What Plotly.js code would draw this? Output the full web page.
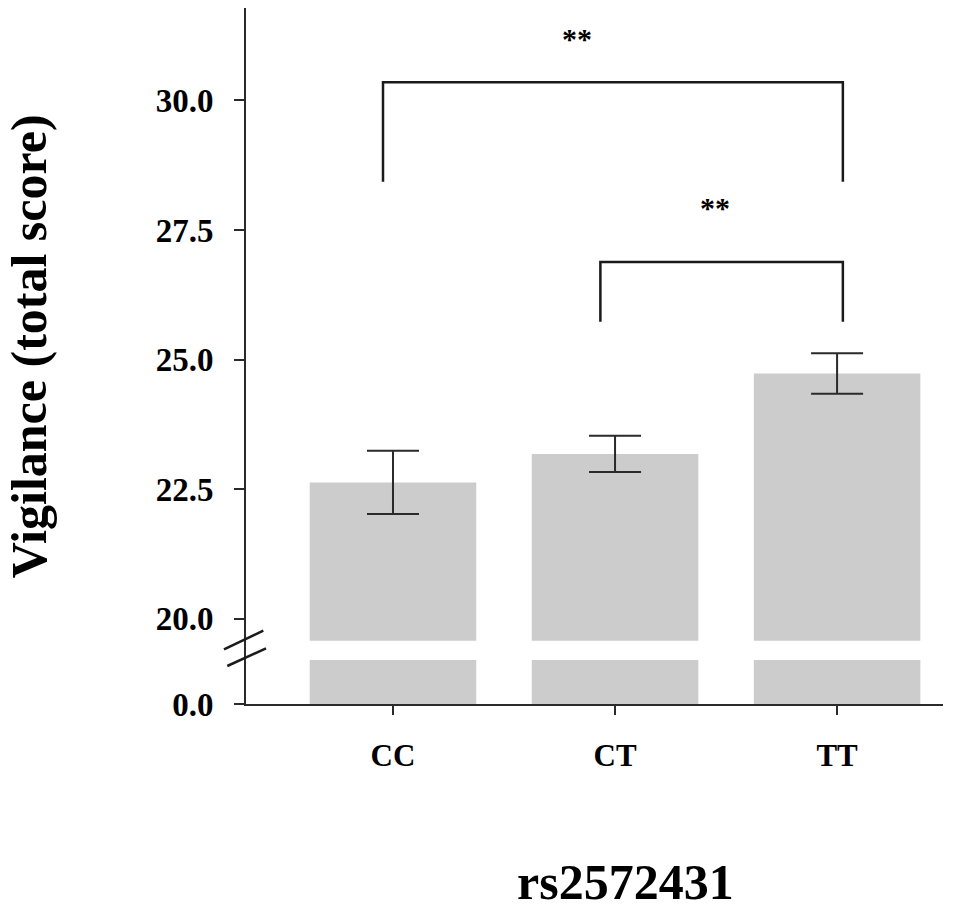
<!DOCTYPE html>
<html>
<head>
<meta charset="utf-8">
<script src="https://cdn.plot.ly/plotly-3.0.1.min.js"></script>
<style>
  html, body { margin: 0; padding: 0; background: #fff; }
  #chart { width: 954px; height: 911px; }
</style>
</head>
<body>
<div id="chart"></div>
<script>
// ---- data ----
const categories = ['CC', 'CT', 'TT'];
const meanScores = [22.63, 23.18, 24.73];
const semScores = [0.61, 0.35, 0.39];
const upperTickVals = [20, 22.5, 25, 27.5, 30];
const upperTickText = ['20.0', '22.5', '25.0', '27.5', '30.0'];
const lowerTickVals = [0];
const lowerTickText = ['0.0'];
const compFrom = ['CC', 'CT'];
const compTo = ['TT', 'TT'];
const compTop = [30.35, 26.88];
const compFoot = [28.43, 25.73];
const compLabel = ['**', '**'];
const compLabelY = [31.20, 27.93];
const xTitle = 'rs2572431';
const yTitle = 'Vigilance (total score)';

// ---- style ----
const FONT = 'Liberation Serif, Times New Roman, serif';
const barColor = '#cccccc';
const inkColor = '#1a1a1a';
const fromNudge = [-0.045, -0.066];
const toNudge = [0.026, 0.026];
const labelNudge = [-0.163, -0.03];

const upperRange = [19.578, 31.78];
const lowerRange = [0, 1];
const lowerDomain = [0, 0.0632];
const upperDomain = [0.0909, 1];

const traces = [
  {
    type: 'bar', x: categories, y: meanScores, xaxis: 'x', yaxis: 'y',
    width: 0.75, marker: { color: barColor, line: { width: 0 } },
    error_y: { type: 'data', array: semScores, visible: true, color: '#2a2a2a', thickness: 2, width: 26 },
    hoverinfo: 'skip'
  },
  {
    type: 'bar', x: categories, y: meanScores, xaxis: 'x', yaxis: 'y2',
    width: 0.75, marker: { color: barColor, line: { width: 0 } },
    hoverinfo: 'skip'
  }
];

const idx = c => categories.indexOf(c);
const shapes = [];
const annotations = [];
for (let i = 0; i < compFrom.length; i++) {
  const a = idx(compFrom[i]) + fromNudge[i];
  const b = idx(compTo[i]) + toNudge[i];
  shapes.push({
    type: 'path', xref: 'x', yref: 'y',
    path: `M ${a},${compFoot[i]} L ${a},${compTop[i]} L ${b},${compTop[i]} L ${b},${compFoot[i]}`,
    line: { color: inkColor, width: 2.5 }
  });
  annotations.push({
    xref: 'x', yref: 'y', x: (a + b) / 2 + labelNudge[i], y: compLabelY[i],
    text: '<b>' + compLabel[i] + '</b>', showarrow: false,
    xanchor: 'center', yanchor: 'middle',
    font: { family: FONT, size: 30, color: '#000' }
  });
}
// fill the y-axis line through the break gap
shapes.push({
  type: 'line', xref: 'paper', yref: 'paper', xsizemode: 'pixel', xanchor: 0,
  x0: -1, x1: -1, y0: lowerDomain[1] - 0.002, y1: upperDomain[0] + 0.002,
  line: { color: '#2a2a2a', width: 2 }
});
// break marks
shapes.push({
  type: 'line', xref: 'paper', yref: 'paper', xsizemode: 'pixel', xanchor: 0,
  x0: -22, x1: 17.3, y0: 0.0786, y1: 0.1053,
  line: { color: '#1a1a1a', width: 2.5 }
});
shapes.push({
  type: 'line', xref: 'paper', yref: 'paper', xsizemode: 'pixel', xanchor: 0,
  x0: -18.7, x1: 20, y0: 0.0546, y1: 0.0800,
  line: { color: '#1a1a1a', width: 2.5 }
});

annotations.push({
  xref: 'paper', yref: 'paper', x: 0.5445, y: -0.2555,
  text: '<b>' + xTitle + '</b>', showarrow: false,
  xanchor: 'center', yanchor: 'middle',
  font: { family: FONT, size: 50, color: '#000' }
});
annotations.push({
  xref: 'paper', yref: 'paper', x: -0.3115, y: 0.514,
  text: '<b>' + yTitle + '</b>', showarrow: false, textangle: -90,
  xanchor: 'center', yanchor: 'middle',
  font: { family: FONT, size: 50, color: '#000' }
});

const axisCommon = {
  showline: true, linecolor: '#2a2a2a', linewidth: 2,
  ticks: 'outside', ticklen: 10, tickwidth: 2, tickcolor: '#2a2a2a',
  showgrid: false, zeroline: false, fixedrange: true
};

const layout = {
  width: 954, height: 911,
  margin: { l: 246, r: 11, t: 8, b: 207 },
  paper_bgcolor: '#ffffff', plot_bgcolor: '#ffffff',
  showlegend: false, barmode: 'overlay',
  xaxis: Object.assign({}, axisCommon, {
    type: 'category', anchor: 'y2', range: [-0.662, 2.477],
    ticklen: 9, ticklabelstandoff: 14,
    tickfont: { family: FONT, size: 31, color: '#000', weight: 'bold' }
  }),
  yaxis: Object.assign({}, axisCommon, {
    domain: upperDomain, range: upperRange, anchor: 'x',
    tickmode: 'array', tickvals: upperTickVals, ticktext: upperTickText,
    ticklabelstandoff: 14,
    tickfont: { family: FONT, size: 33, color: '#000', weight: 'bold' }
  }),
  yaxis2: Object.assign({}, axisCommon, {
    domain: lowerDomain, range: lowerRange, anchor: 'x',
    tickmode: 'array', tickvals: lowerTickVals, ticktext: lowerTickText,
    ticklabelstandoff: 14,
    tickfont: { family: FONT, size: 33, color: '#000', weight: 'bold' }
  }),
  shapes: shapes,
  annotations: annotations
};

Plotly.newPlot('chart', traces, layout, { displayModeBar: false, staticPlot: true });
</script>
</body>
</html>
